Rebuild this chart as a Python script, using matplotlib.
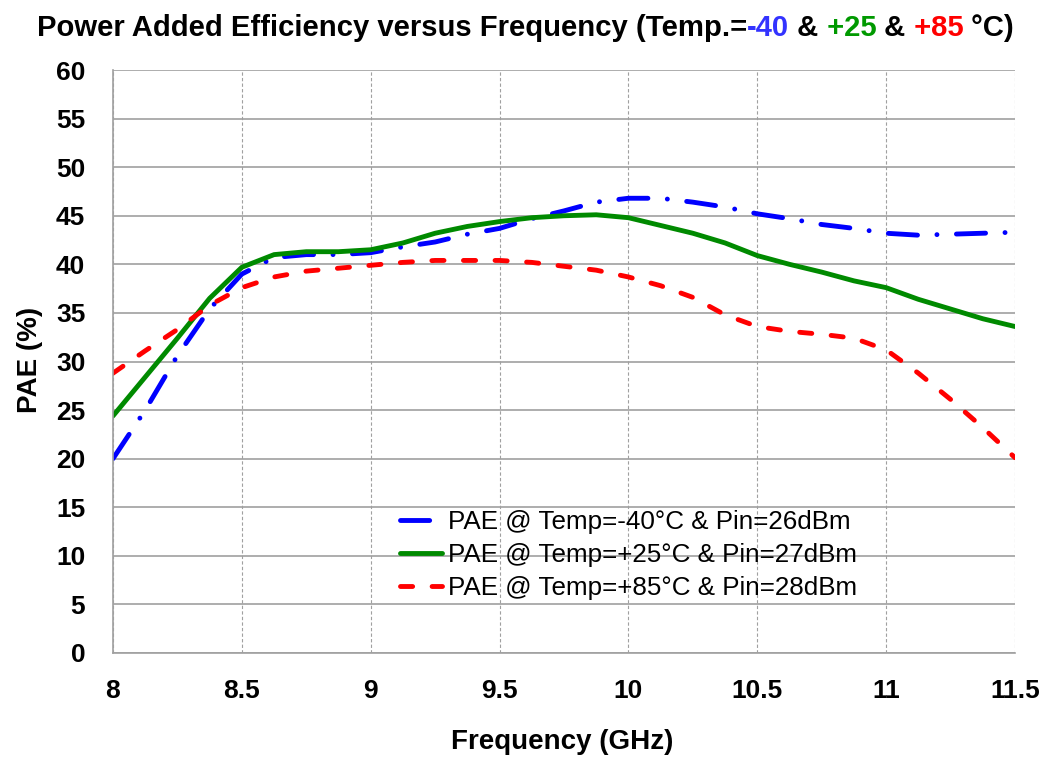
import matplotlib
matplotlib.use('Agg')
import matplotlib.pyplot as plt

# frequency points (GHz)
freq = [8, 8.125, 8.25, 8.375, 8.5, 8.625, 8.75, 8.875, 9, 9.125, 9.25, 9.375, 9.5,
        9.625, 9.75, 9.875, 10, 10.125, 10.25, 10.375, 10.5, 10.625, 10.75, 10.875,
        11, 11.125, 11.25, 11.375, 11.5]

pae_m40 = [20.0, 25.0, 30.6, 35.4, 39.0, 40.7, 41.0, 41.0, 41.2, 41.8, 42.3, 43.1, 43.7,
           44.7, 45.5, 46.4, 46.8, 46.8, 46.4, 45.9, 45.2, 44.7, 44.1, 43.7,
           43.2, 43.0, 43.1, 43.2, 43.3]
pae_p25 = [24.4, 28.4, 32.4, 36.5, 39.7, 41.0, 41.3, 41.3, 41.5, 42.2, 43.2, 43.9, 44.4,
           44.8, 45.0, 45.1, 44.8, 44.0, 43.2, 42.2, 40.9, 40.0, 39.2, 38.3,
           37.6, 36.4, 35.4, 34.4, 33.6]
pae_p85 = [28.8, 31.1, 33.3, 35.8, 37.6, 38.7, 39.3, 39.6, 39.9, 40.2, 40.4, 40.4, 40.4,
           40.2, 39.8, 39.4, 38.7, 37.8, 36.6, 34.8, 33.6, 33.1, 32.8, 32.4,
           31.2, 28.8, 26.1, 23.2, 20.1]

labels = ['PAE @ Temp=-40°C & Pin=26dBm',
          'PAE @ Temp=+25°C & Pin=27dBm',
          'PAE @ Temp=+85°C & Pin=28dBm']

x_ticks = [8, 8.5, 9, 9.5, 10, 10.5, 11, 11.5]
x_tick_labels = ['8', '8.5', '9', '9.5', '10', '10.5', '11', '11.5']
y_ticks = list(range(0, 61, 5))

arial = ['Liberation Sans', 'DejaVu Sans']
plt.rcParams['font.family'] = arial

fig = plt.figure(figsize=(10.44, 7.58), dpi=100)
ax = fig.add_axes([113/1044, 1 - 653/758, 902/1044, 583/758])

lw = 3.5
ax.plot(freq, pae_m40, color='#0000FF', lw=lw, linestyle=(0, (6, 4, 0.01, 4)),
        dash_capstyle='round', dash_joinstyle='round', label=labels[0])
ax.plot(freq, pae_p25, color='#008A00', lw=lw, solid_capstyle='round',
        solid_joinstyle='round', label=labels[1])
ax.plot(freq, pae_p85, color='#FF0000', lw=lw, linestyle=(0, (2.5, 4)),
        dash_capstyle='round', dash_joinstyle='round', label=labels[2])

ax.set_xlim(8, 11.5)
ax.set_ylim(0, 60)
ax.set_xticks(x_ticks)
ax.set_xticklabels(x_tick_labels, fontweight='bold', fontsize=19)
ax.set_yticks(y_ticks)
ax.set_yticklabels([str(v) for v in y_ticks], fontweight='bold', fontsize=19)
ax.tick_params(axis='both', length=0)
ax.tick_params(axis='y', pad=20)
ax.tick_params(axis='x', pad=19)

ax.set_axisbelow(True)
ax.yaxis.grid(True, color='#A0A0A0', lw=1.2, linestyle='-')
ax.xaxis.grid(True, color='#A0A0A0', lw=0.8, linestyle=(0, (3, 2)))
for side in ['top', 'right']:
    ax.spines[side].set_visible(False)
for side in ['left', 'bottom']:
    ax.spines[side].set_color('#A0A0A0')
    ax.spines[side].set_linewidth(1.2)

ax.set_xlabel('Frequency (GHz)', fontweight='bold', fontsize=20)
ax.xaxis.set_label_coords(0.498, -0.152)
ax.xaxis.label.set_va('center')
ax.set_ylabel('PAE (%)', fontweight='bold', fontsize=20)
ax.yaxis.set_label_coords(-0.092, 0.503)
ax.yaxis.label.set_va('center')

ax.legend(loc='center left', bbox_to_anchor=(400/1044, 1 - 555/758),
          bbox_transform=fig.transFigure, frameon=False, fontsize=18.7,
          handlelength=1.6, handletextpad=0.25, labelspacing=0.36,
          borderpad=0, borderaxespad=0)

# title in coloured pieces
pieces = [('Power Added Efficiency versus Frequency (Temp.=', 'black'),
          ('-40', '#3333FF'), (' &', 'black'), (' +25', '#009900'),
          (' &', 'black'), (' +85', '#FF0000'), (' °C)', 'black')]
prev = fig.text(37/1044, 1 - 36/758, pieces[0][0], color=pieces[0][1],
                fontweight='bold', fontsize=21.1, va='baseline')
for txt, col in pieces[1:]:
    prev = ax.annotate(txt, xy=(1, 0), xycoords=prev, va='bottom', ha='left',
                       color=col, fontweight='bold', fontsize=21.1,
                       annotation_clip=False)

fig.savefig('out.png', dpi=100)
